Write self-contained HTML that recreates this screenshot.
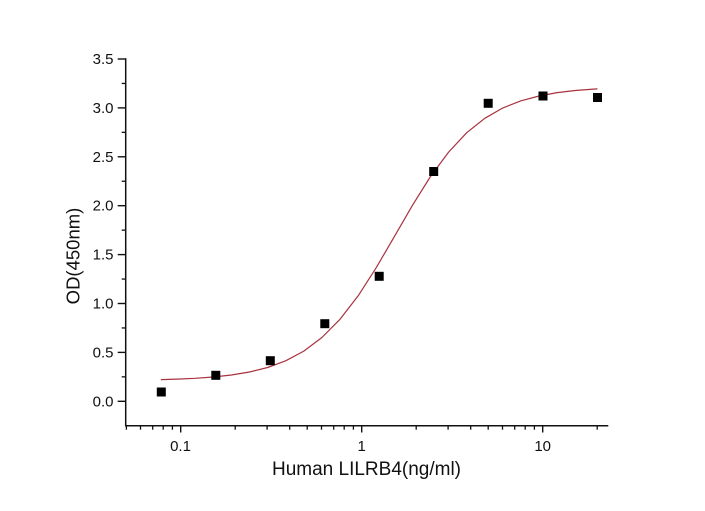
<!DOCTYPE html>
<html>
<head>
<meta charset="utf-8">
<style>
  html, body { margin:0; padding:0; background:#fff; }
  svg { display:block; }
  text { font-family: "Liberation Sans", Arial, sans-serif; fill:#111; }
</style>
</head>
<body>
<svg width="705" height="511" viewBox="0 0 705 511" xmlns="http://www.w3.org/2000/svg">
  <rect x="0" y="0" width="705" height="511" fill="#fff"/>

  <!-- Axes -->
  <g stroke="#111" stroke-width="1.5" fill="none">
    <line x1="125.7" y1="58.3" x2="125.7" y2="426.4"/>
    <line x1="125" y1="425.7" x2="608.3" y2="425.7"/>
  </g>

  <!-- Y major ticks -->
  <g stroke="#111" stroke-width="1.4">
    <line x1="117.7" y1="401.3" x2="125.7" y2="401.3"/>
    <line x1="117.7" y1="352.4" x2="125.7" y2="352.4"/>
    <line x1="117.7" y1="303.5" x2="125.7" y2="303.5"/>
    <line x1="117.7" y1="254.6" x2="125.7" y2="254.6"/>
    <line x1="117.7" y1="205.7" x2="125.7" y2="205.7"/>
    <line x1="117.7" y1="156.8" x2="125.7" y2="156.8"/>
    <line x1="117.7" y1="107.9" x2="125.7" y2="107.9"/>
    <line x1="117.7" y1="59.0" x2="125.7" y2="59.0"/>
  </g>
  <!-- Y minor ticks -->
  <g stroke="#111" stroke-width="1.3">
    <line x1="121.7" y1="376.85" x2="125.7" y2="376.85"/>
    <line x1="121.7" y1="327.95" x2="125.7" y2="327.95"/>
    <line x1="121.7" y1="279.05" x2="125.7" y2="279.05"/>
    <line x1="121.7" y1="230.15" x2="125.7" y2="230.15"/>
    <line x1="121.7" y1="181.25" x2="125.7" y2="181.25"/>
    <line x1="121.7" y1="132.35" x2="125.7" y2="132.35"/>
    <line x1="121.7" y1="83.45" x2="125.7" y2="83.45"/>
  </g>

  <!-- Y tick labels -->
  <g font-size="15" text-anchor="end">
    <text x="113.5" y="406.3">0.0</text>
    <text x="113.5" y="357.4">0.5</text>
    <text x="113.5" y="308.5">1.0</text>
    <text x="113.5" y="259.6">1.5</text>
    <text x="113.5" y="210.7">2.0</text>
    <text x="113.5" y="161.8">2.5</text>
    <text x="113.5" y="112.9">3.0</text>
    <text x="113.5" y="64.0">3.5</text>
  </g>

  <!-- X major ticks -->
  <g stroke="#111" stroke-width="1.4">
    <line x1="180.7" y1="425.7" x2="180.7" y2="432.5"/>
    <line x1="361.7" y1="425.7" x2="361.7" y2="432.5"/>
    <line x1="542.7" y1="425.7" x2="542.7" y2="432.5"/>
  </g>
  <!-- X minor ticks -->
  <g stroke="#111" stroke-width="1.3">
    <line x1="126.4" y1="425.7" x2="126.4" y2="429.7"/>
    <line x1="140.5" y1="425.7" x2="140.5" y2="429.7"/>
    <line x1="152.7" y1="425.7" x2="152.7" y2="429.7"/>
    <line x1="163.2" y1="425.7" x2="163.2" y2="429.7"/>
    <line x1="172.4" y1="425.7" x2="172.4" y2="429.7"/>

    <line x1="235.2" y1="425.7" x2="235.2" y2="429.7"/>
    <line x1="267.1" y1="425.7" x2="267.1" y2="429.7"/>
    <line x1="289.7" y1="425.7" x2="289.7" y2="429.7"/>
    <line x1="307.2" y1="425.7" x2="307.2" y2="429.7"/>
    <line x1="321.5" y1="425.7" x2="321.5" y2="429.7"/>
    <line x1="333.7" y1="425.7" x2="333.7" y2="429.7"/>
    <line x1="344.2" y1="425.7" x2="344.2" y2="429.7"/>
    <line x1="353.4" y1="425.7" x2="353.4" y2="429.7"/>

    <line x1="416.2" y1="425.7" x2="416.2" y2="429.7"/>
    <line x1="448.1" y1="425.7" x2="448.1" y2="429.7"/>
    <line x1="470.7" y1="425.7" x2="470.7" y2="429.7"/>
    <line x1="488.2" y1="425.7" x2="488.2" y2="429.7"/>
    <line x1="502.5" y1="425.7" x2="502.5" y2="429.7"/>
    <line x1="514.7" y1="425.7" x2="514.7" y2="429.7"/>
    <line x1="525.2" y1="425.7" x2="525.2" y2="429.7"/>
    <line x1="534.4" y1="425.7" x2="534.4" y2="429.7"/>

    <line x1="597.2" y1="425.7" x2="597.2" y2="429.7"/>
  </g>

  <!-- X tick labels -->
  <g font-size="15" text-anchor="middle">
    <text x="180.5" y="451">0.1</text>
    <text x="361.7" y="451">1</text>
    <text x="542.7" y="451">10</text>
  </g>

  <!-- Axis titles -->
  <text x="366.5" y="475" font-size="19" text-anchor="middle">Human LILRB4(ng/ml)</text>
  <text transform="translate(79.5,256) rotate(-90)" font-size="18.5" text-anchor="middle">OD(450nm)</text>

  <!-- Fitted curve -->
  <polyline fill="none" stroke="#a8323f" stroke-width="1.2" stroke-linejoin="round" stroke-linecap="round"
    points="161.3,379.6 177.1,379.1 195.2,378.3 213.3,377.0 231.4,375.0 249.5,372.0 267.6,367.5 285.7,360.8 303.8,351.1 321.9,337.5 340.0,319.3 358.1,295.9 376.2,267.7 394.3,236.7 412.4,205.4 430.5,176.5 448.6,152.1 466.7,132.7 484.8,118.3 502.9,107.9 521.0,100.8 539.1,96.0 557.2,92.6 575.3,90.5 593.4,89.1 597,88.9"/>

  <!-- Data points -->
  <g fill="#000">
    <rect x="156.8" y="387.5" width="9" height="9"/>
    <rect x="211.3" y="370.8" width="9" height="9"/>
    <rect x="265.8" y="356.2" width="9" height="9"/>
    <rect x="320.3" y="319.2" width="9" height="9"/>
    <rect x="374.7" y="271.8" width="9" height="9"/>
    <rect x="429.2" y="167.0" width="9" height="9"/>
    <rect x="483.7" y="98.8" width="9" height="9"/>
    <rect x="538.5" y="91.5" width="9" height="9"/>
    <rect x="593.0" y="93.0" width="9" height="9"/>
  </g>
</svg>
</body>
</html>
